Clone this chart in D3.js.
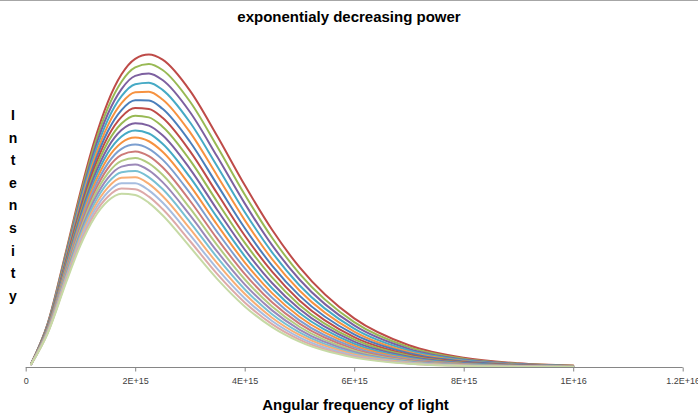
<!DOCTYPE html>
<html>
<head>
<meta charset="utf-8">
<script src="https://cdn.jsdelivr.net/npm/d3@7"></script>
<style>
  html, body { margin: 0; padding: 0; background: #ffffff; }
  svg { display: block; }
</style>
</head>
<body>
<svg id="chart" width="698" height="415"></svg>
<script>
// ---- data (angular frequency in units of 1E15, intensity in arbitrary units) ----
const freq = [0.1, 0.4, 0.75, 1, 1.25, 1.5, 1.75, 2, 2.25, 2.5, 3, 3.5, 4, 4.5, 5, 6, 7, 8, 9, 10];

const curve01 = [3.3, 43.3, 118.8, 175.3, 225.5, 265.4, 293.2, 308.7, 313.0, 307.8, 276.8, 231.1, 182.2, 137.4, 100.0, 48.7, 21.8, 9.2, 3.7, 1.4];
const curve02 = [3.3, 42.8, 117.0, 172.1, 220.9, 259.3, 285.7, 300.0, 303.4, 297.5, 265.9, 220.6, 172.8, 129.5, 93.6, 45.0, 19.9, 8.3, 3.3, 1.3];
const curve03 = [3.2, 42.2, 115.1, 169.0, 216.4, 253.4, 278.4, 291.6, 294.0, 287.4, 255.4, 210.5, 163.9, 122.0, 87.6, 41.6, 18.1, 7.4, 2.9, 1.1];
const curve04 = [3.2, 41.6, 113.3, 165.9, 211.9, 247.5, 271.2, 283.2, 284.7, 277.6, 245.1, 200.8, 155.3, 114.9, 81.9, 38.4, 16.5, 6.7, 2.6, 1.0];
const curve05 = [3.2, 41.1, 111.4, 162.9, 207.5, 241.8, 264.2, 275.1, 275.8, 268.0, 235.2, 191.4, 147.1, 108.1, 76.6, 35.4, 15.0, 6.0, 2.3, 0.8];
const curve06 = [3.1, 40.6, 109.6, 159.9, 203.2, 236.1, 257.3, 267.1, 267.0, 258.6, 225.6, 182.4, 139.2, 101.6, 71.5, 32.6, 13.7, 5.4, 2.0, 0.7];
const curve07 = [3.1, 40.0, 107.9, 156.9, 198.9, 230.5, 250.5, 259.3, 258.4, 249.6, 216.2, 173.7, 131.7, 95.5, 66.7, 30.0, 12.4, 4.8, 1.8, 0.6];
const curve08 = [3.1, 39.5, 106.1, 154.0, 194.7, 225.0, 243.8, 251.7, 250.0, 240.7, 207.2, 165.3, 124.5, 89.7, 62.2, 27.6, 11.3, 4.3, 1.6, 0.6];
const curve09 = [3.0, 39.0, 104.4, 151.1, 190.6, 219.6, 237.3, 244.2, 241.8, 232.1, 198.5, 157.3, 117.7, 84.1, 58.0, 25.4, 10.2, 3.9, 1.4, 0.5];
const curve10 = [3.0, 38.4, 102.7, 148.3, 186.5, 214.3, 230.9, 236.9, 233.9, 223.7, 190.1, 149.6, 111.1, 78.9, 54.0, 23.3, 9.2, 3.4, 1.2, 0.4];
const curve11 = [3.0, 37.9, 101.0, 145.5, 182.5, 209.1, 224.6, 229.8, 226.1, 215.6, 181.9, 142.2, 104.9, 74.0, 50.3, 21.4, 8.3, 3.1, 1.1, 0.4];
const curve12 = [2.9, 37.4, 99.3, 142.7, 178.5, 204.0, 218.5, 222.8, 218.5, 207.7, 174.1, 135.1, 99.0, 69.3, 46.7, 19.6, 7.5, 2.7, 0.9, 0.3];
const curve13 = [2.9, 36.9, 97.6, 140.0, 174.6, 199.0, 212.4, 215.9, 211.1, 200.0, 166.5, 128.3, 93.3, 64.8, 43.4, 17.9, 6.8, 2.4, 0.8, 0.3];
const curve14 = [2.9, 36.4, 96.0, 137.3, 170.8, 194.0, 206.5, 209.3, 203.9, 192.5, 159.1, 121.8, 87.9, 60.6, 40.3, 16.4, 6.1, 2.2, 0.7, 0.2];
const curve15 = [2.8, 35.9, 94.4, 134.6, 167.0, 189.2, 200.7, 202.7, 196.9, 185.2, 152.0, 115.5, 82.8, 56.7, 37.4, 15.0, 5.5, 1.9, 0.6, 0.2];
const curve16 = [2.8, 35.4, 92.8, 132.0, 163.3, 184.4, 195.1, 196.3, 190.0, 178.2, 145.2, 109.5, 77.9, 52.9, 34.7, 13.7, 5.0, 1.7, 0.6, 0.2];
const curve17 = [2.8, 35.0, 91.2, 129.4, 159.6, 179.7, 189.5, 190.1, 183.4, 171.3, 138.6, 103.8, 73.3, 49.4, 32.1, 12.5, 4.5, 1.5, 0.5, 0.2];
const curve18 = [2.7, 34.5, 89.7, 126.9, 156.0, 175.1, 184.1, 184.0, 176.9, 164.7, 132.3, 98.3, 68.9, 46.1, 29.7, 11.4, 4.0, 1.3, 0.4, 0.1];
const curve19 = [2.7, 34.0, 88.2, 124.3, 152.5, 170.6, 178.7, 178.1, 170.6, 158.2, 126.2, 93.0, 64.7, 43.0, 27.5, 10.4, 3.6, 1.2, 0.4, 0.1];
const curve20 = [2.7, 33.5, 86.6, 121.9, 149.0, 166.2, 173.5, 172.3, 164.4, 152.0, 120.3, 88.0, 60.7, 40.0, 25.4, 9.4, 3.2, 1.0, 0.3, 0.1];

const curves = [curve01, curve02, curve03, curve04, curve05, curve06, curve07, curve08, curve09, curve10,
                curve11, curve12, curve13, curve14, curve15, curve16, curve17, curve18, curve19, curve20];

const colors = ["#BE4B48", "#98B954", "#7D60A0", "#46AAC5", "#F69240", "#4A7EBB",
                "#BE4B48", "#98B954", "#7D60A0", "#46AAC5", "#F69240",
                "#7C9FD0", "#CD7A78", "#B2CB81", "#9C88B8", "#78C0D3", "#F8AE75",
                "#A6BDE0", "#DDA9A8", "#C6DAA5"];

const tickValues = [0, 2, 4, 6, 8, 10, 12];
const tickLabels = ["0", "2E+15", "4E+15", "6E+15", "8E+15", "1E+16", "1.2E+16"];

const titleText = "exponentialy decreasing power";
const xTitleText = "Angular frequency of light";
const yTitleText = "Intensity";

// ---- drawing ----
const svg = d3.select("#chart");
const W = 698, H = 415;

const x = d3.scaleLinear().domain([0, 12]).range([25.7, 682.7]);
const y = d3.scaleLinear().domain([0, 313]).range([367, 54.5]);

// top border of the chart area
svg.append("line")
  .attr("x1", 0).attr("x2", W).attr("y1", 0.5).attr("y2", 0.5)
  .attr("stroke", "#A6A6A6").attr("stroke-width", 1);

// series
const line = d3.line()
  .x((d, i) => x(freq[i]))
  .y(d => y(d))
  .curve(d3.curveMonotoneX);

svg.append("g").attr("class", "series")
  .selectAll("path")
  .data(curves)
  .join("path")
  .attr("d", d => line(d))
  .attr("fill", "none")
  .attr("stroke", (d, i) => colors[i])
  .attr("stroke-width", 2)
  .attr("stroke-linejoin", "round")
  .attr("stroke-linecap", "round");

// x axis
const xAxis = d3.axisBottom(x)
  .tickValues(tickValues)
  .tickFormat((d, i) => tickLabels[i])
  .tickSize(4)
  .tickPadding(7);

const gx = svg.append("g")
  .attr("transform", `translate(0,${y(0)})`)
  .call(xAxis);
gx.select(".domain").attr("stroke", "#868686").attr("d", `M${x(0)},0.5H${x(12)}`);
gx.selectAll(".tick line").attr("stroke", "#868686").attr("transform", "translate(0,0.5)");
gx.selectAll(".tick text")
  .attr("fill", "#404040")
  .style("font-family", "'Liberation Sans', Arial, sans-serif")
  .style("font-size", "9px");

// chart title
svg.append("text")
  .attr("x", 349).attr("y", 22)
  .attr("text-anchor", "middle")
  .style("font-family", "'Liberation Sans', Arial, sans-serif")
  .style("font-weight", "bold")
  .style("font-size", "15px")
  .attr("fill", "#000")
  .text(titleText);

// x axis title
svg.append("text")
  .attr("x", 355.5).attr("y", 410)
  .attr("text-anchor", "middle")
  .style("font-family", "'Liberation Sans', Arial, sans-serif")
  .style("font-weight", "bold")
  .style("font-size", "15px")
  .attr("fill", "#000")
  .text(xTitleText);

// y axis title (stacked letters)
const yLetters = yTitleText.split("");
svg.append("g").attr("class", "ytitle")
  .selectAll("text")
  .data(yLetters)
  .join("text")
  .attr("x", 13)
  .attr("y", (d, i) => 120 + i * 22.6)
  .attr("text-anchor", "middle")
  .style("font-family", "'Liberation Sans', Arial, sans-serif")
  .style("font-weight", "bold")
  .style("font-size", "14px")
  .attr("fill", "#000")
  .text(d => d);
</script>
</body>
</html>
